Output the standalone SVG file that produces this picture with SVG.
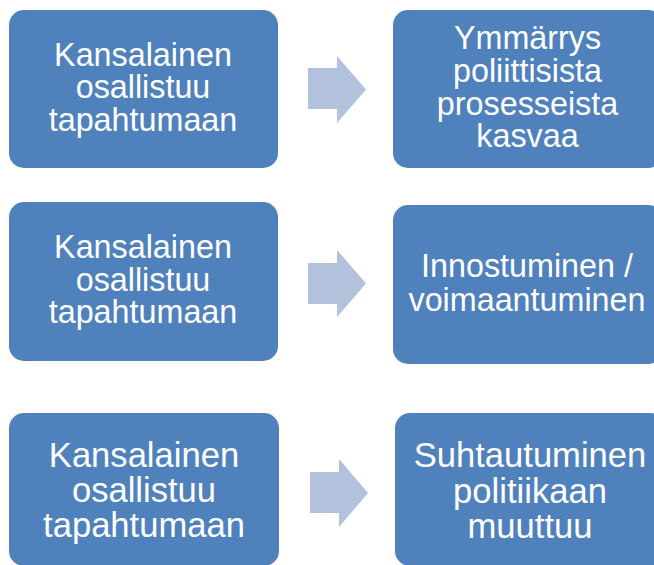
<svg xmlns="http://www.w3.org/2000/svg" width="654" height="565" viewBox="0 0 654 565">
<style>
.box{fill:#4F81BD}
.arr{fill:#B2C2DC}
.t{font-family:"Liberation Sans",Arial,sans-serif;fill:#FFFFFF;text-anchor:middle}
.s{font-size:32.3px}
.l{font-size:34.6px}
</style>
<rect width="654" height="565" fill="#FFFFFF"/>
<g id="connectors">
<polygon class="arr" points="308,68 337,68 337,56 366,89.5 337,123 337,109 308,109"/>
<polygon class="arr" points="308,263 337,263 337,250 366,283.5 337,317 337,304 308,304"/>
<polygon class="arr" points="310,472 339,472 339,459 368,493 339,527 339,513 310,513"/>
</g>
<g id="n1">
<rect class="box" x="9" y="10" width="269" height="158" rx="15"/>
<text class="t s" x="143" y="65.5">Kansalainen</text>
<text class="t s" x="143" y="98">osallistuu</text>
<text class="t s" x="143" y="130.5">tapahtumaan</text>
</g>
<g id="n2">
<rect class="box" x="393" y="10" width="270" height="158" rx="15"/>
<text class="t s" x="527.5" y="49">Ymmärrys</text>
<text class="t s" x="527.5" y="82">poliittisista</text>
<text class="t s" x="527.5" y="114.5">prosesseista</text>
<text class="t s" x="527.5" y="147">kasvaa</text>
</g>
<g id="n3">
<rect class="box" x="9" y="202" width="269" height="159" rx="15"/>
<text class="t s" x="143" y="258">Kansalainen</text>
<text class="t s" x="143" y="290.5">osallistuu</text>
<text class="t s" x="143" y="323">tapahtumaan</text>
</g>
<g id="n4">
<rect class="box" x="393" y="205" width="270" height="159" rx="15"/>
<text class="t s" x="527" y="277">Innostuminen /</text>
<text class="t s" x="527" y="310.5">voimaantuminen</text>
</g>
<g id="n5">
<rect class="box" x="9" y="413" width="270" height="153" rx="15"/>
<text class="t l" x="144" y="467">Kansalainen</text>
<text class="t l" x="144" y="502">osallistuu</text>
<text class="t l" x="144" y="537">tapahtumaan</text>
</g>
<g id="n6">
<rect class="box" x="395" y="413" width="270" height="153" rx="15"/>
<text class="t l" x="530" y="467">Suhtautuminen</text>
<text class="t l" x="530" y="503">politiikaan</text>
<text class="t l" x="530" y="538">muuttuu</text>
</g>
</svg>
